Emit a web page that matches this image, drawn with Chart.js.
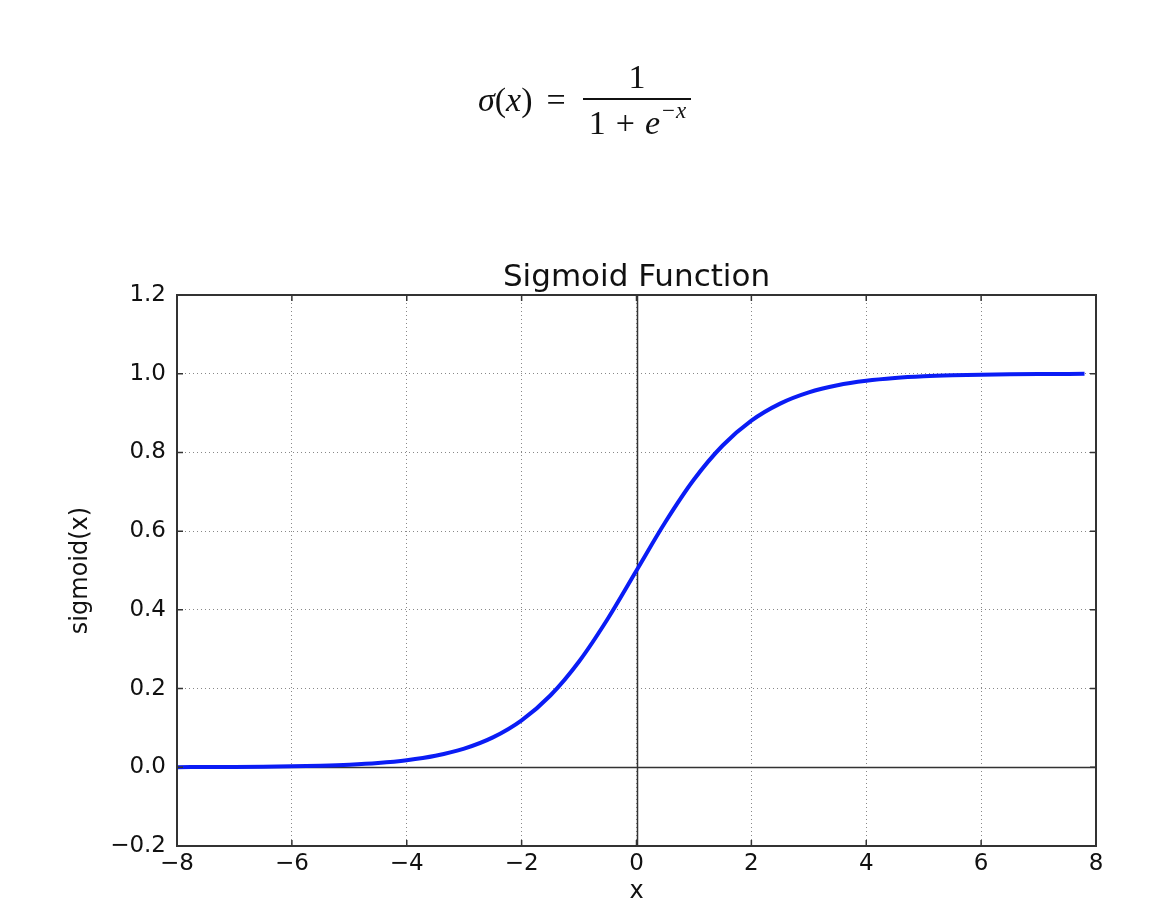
<!DOCTYPE html>
<html>
<head>
<meta charset="utf-8">
<script src="https://cdn.jsdelivr.net/npm/chart.js@4"></script>
<style>
  html, body { margin: 0; padding: 0; background: #fff; }
  #wrap { position: relative; width: 1153px; height: 918px; }
  #formula {
    position: absolute; left: 478px; top: 59px;
    display: flex; align-items: center;
    font-family: "Liberation Serif", "DejaVu Serif", serif;
    font-size: 34px; color: #111;
  }
  #formula i { font-style: italic; }
  .eq { margin: 0 17px 0 14px; }
  .frac { display: inline-flex; flex-direction: column; align-items: center; }
  .num { padding: 0 0 3px 0; line-height: 1.05; }
  .den { border-top: 2px solid #111; padding: 2px 4px 0 6px; line-height: 1.1; }
  .den .op { margin: 0 10px; }
  .den sup { font-size: 23px; position: relative; top: -4px; margin-left: 2px; letter-spacing: 1px; }
</style>
</head>
<body>
<div id="wrap">
  <div id="formula">
    <span><i>σ</i>(<i>x</i>)</span><span class="eq">=</span>
    <span class="frac">
      <span class="num">1</span>
      <span class="den">1<span class="op">+</span><i>e</i><sup>−<i>x</i></sup></span>
    </span>
  </div>
  <canvas id="myChart" width="1153" height="918"></canvas>
</div>
<script>
// values
const x_values = [-8, -7.5, -7, -6.5, -6, -5.5, -5, -4.5, -4, -3.5, -3, -2.5, -2, -1.5, -1, -0.5,
                  0, 0.5, 1, 1.5, 2, 2.5, 3, 3.5, 4, 4.5, 5, 5.5, 6, 6.5, 7, 7.5, 7.8];
const sigmoid_values = [0.0003, 0.0006, 0.0009, 0.0015, 0.0025, 0.0041, 0.0067, 0.0110, 0.0180, 0.0293,
                        0.0474, 0.0759, 0.1192, 0.1824, 0.2689, 0.3775, 0.5000, 0.6225, 0.7311, 0.8176,
                        0.8808, 0.9241, 0.9526, 0.9707, 0.9820, 0.9890, 0.9933, 0.9959, 0.9975, 0.9985,
                        0.9991, 0.9994, 0.9996];
const x_tick_labels = ['\u22128', '\u22126', '\u22124', '\u22122', '0', '2', '4', '6', '8'];
const y_tick_labels = ['\u22120.2', '0.0', '0.2', '0.4', '0.6', '0.8', '1.0', '1.2'];
const chart_title = 'Sigmoid Function';

const FONT = 'DejaVu Sans';

// frame, zero lines, inward ticks and a title centred on the axes, like matplotlib
const framePlugin = {
    id: 'frame',
    beforeDatasetsDraw(chart) {
        const {ctx, chartArea, scales} = chart;
        ctx.save();
        ctx.strokeStyle = '#333';
        ctx.lineWidth = 1.5;
        const y0 = Math.round(scales.y.getPixelForValue(0)) + 0.5;
        const x0 = Math.round(scales.x.getPixelForValue(0)) + 0.5;
        ctx.beginPath();
        ctx.moveTo(chartArea.left, y0);
        ctx.lineTo(chartArea.right, y0);
        ctx.moveTo(x0, chartArea.top);
        ctx.lineTo(x0, chartArea.bottom);
        ctx.stroke();
        ctx.restore();
    },
    afterDraw(chart) {
        const {ctx, chartArea, scales} = chart;
        ctx.save();
        ctx.strokeStyle = '#333';
        ctx.lineWidth = 2;
        ctx.strokeRect(chartArea.left, chartArea.top, chartArea.right - chartArea.left, chartArea.bottom - chartArea.top);
        ctx.lineWidth = 1.5;
        ctx.beginPath();
        scales.x.ticks.forEach(t => {
            const px = scales.x.getPixelForValue(t.value);
            ctx.moveTo(px, chartArea.bottom); ctx.lineTo(px, chartArea.bottom - 6);
            ctx.moveTo(px, chartArea.top); ctx.lineTo(px, chartArea.top + 6);
        });
        scales.y.ticks.forEach(t => {
            const py = scales.y.getPixelForValue(t.value);
            ctx.moveTo(chartArea.left, py); ctx.lineTo(chartArea.left + 6, py);
            ctx.moveTo(chartArea.right, py); ctx.lineTo(chartArea.right - 6, py);
        });
        ctx.stroke();

        ctx.fillStyle = '#111';
        ctx.font = '31px "' + FONT + '"';
        ctx.textAlign = 'center';
        ctx.textBaseline = 'alphabetic';
        ctx.fillText(chart_title, (chartArea.left + chartArea.right) / 2, chartArea.top - 9);
        ctx.restore();
    }
};

const ctx = document.getElementById('myChart');

new Chart(ctx,
{
    type: 'line',
    data:
    {
        datasets:
        [
            {
                data: x_values.map((x, i) => ({x: x, y: sigmoid_values[i]})),
                borderColor: '#0a1cf5',
                borderWidth: 4,
                pointRadius: 0,
                cubicInterpolationMode: 'monotone',
                fill: false
            }
        ]
    },
    options:
    {
        responsive: false,
        animation: false,
        layout:
        {
            padding: { top: 295, right: 57, bottom: 0, left: 0 }
        },
        scales:
        {
            x:
            {
                type: 'linear',
                min: -8,
                max: 8,
                afterFit: (scale) => { scale.height = 72; },
                ticks:
                {
                    stepSize: 2,
                    padding: 4,
                    color: '#111',
                    font: { family: FONT, size: 23 },
                    callback: (v, i) => x_tick_labels[i]
                },
                grid: { color: '#888', lineWidth: 1, drawTicks: false },
                border: { display: false, dash: [1, 3] },
                title:
                {
                    display: true,
                    text: 'x',
                    color: '#111',
                    font: { family: FONT, size: 24 },
                    padding: { top: 0, bottom: 12 }
                }
            },
            y:
            {
                min: -0.2,
                max: 1.2,
                afterFit: (scale) => { scale.width = 177; },
                ticks:
                {
                    stepSize: 0.2,
                    padding: 11,
                    color: '#111',
                    font: { family: FONT, size: 23 },
                    callback: (v, i) => y_tick_labels[i]
                },
                grid: { color: '#888', lineWidth: 1, drawTicks: false },
                border: { display: false, dash: [1, 3] },
                title:
                {
                    display: true,
                    text: 'sigmoid(x)',
                    color: '#111',
                    font: { family: FONT, size: 24 },
                    padding: { top: 66, bottom: 0 }
                }
            }
        },
        plugins:
        {
            legend: { display: false },
            tooltip: { enabled: false },
            title: { display: false }
        }
    },
    plugins: [framePlugin]
});
</script>
</body>
</html>
